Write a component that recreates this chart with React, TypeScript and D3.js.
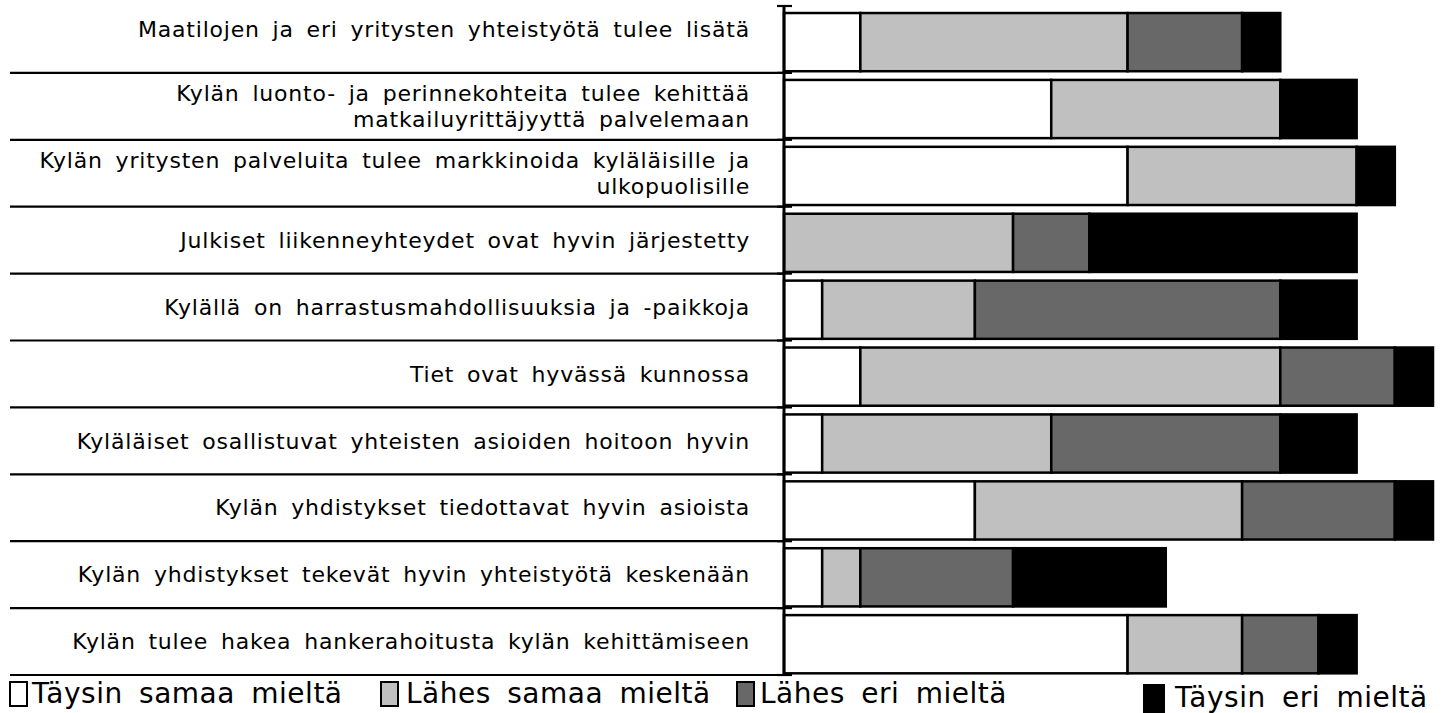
import React from "react";
import * as d3 from "d3";

const categories: string[] = [
  "Maatilojen ja eri yritysten yhteistyötä tulee lisätä",
  "Kylän luonto- ja perinnekohteita tulee kehittää\nmatkailuyrittäjyyttä palvelemaan",
  "Kylän yritysten palveluita tulee markkinoida kyläläisille ja\nulkopuolisille",
  "Julkiset liikenneyhteydet ovat hyvin järjestetty",
  "Kylällä on harrastusmahdollisuuksia ja -paikkoja",
  "Tiet ovat hyvässä kunnossa",
  "Kyläläiset osallistuvat yhteisten asioiden hoitoon hyvin",
  "Kylän yhdistykset tiedottavat hyvin asioista",
  "Kylän yhdistykset tekevät hyvin yhteistyötä keskenään",
  "Kylän tulee hakea hankerahoitusta kylän kehittämiseen",
];

const seriesNames: string[] = [
  "Täysin samaa mieltä",
  "Lähes samaa mieltä",
  "Lähes eri mieltä",
  "Täysin eri mieltä",
];
const seriesColors: string[] = ["#ffffff", "#c0c0c0", "#686868", "#000000"];

const taysinSamaa: number[] = [2, 7, 9, 0, 1, 2, 1, 5, 1, 9];
const lahesSamaa: number[] = [7, 6, 6, 6, 4, 11, 6, 7, 1, 3];
const lahesEri: number[] = [3, 0, 0, 2, 8, 3, 6, 4, 4, 2];
const taysinEri: number[] = [1, 2, 1, 7, 2, 1, 2, 1, 4, 1];

const xMax = 17;

const W = 1445;
const H = 713;
const axisX = 784;
const rightX = 1433;
const topY = 6;
const bottomY = 675;
const FONT = "'DejaVu Sans', sans-serif";

export default function App() {
  const rows = categories.map((c, i) => ({
    cat: c,
    vals: [taysinSamaa[i], lahesSamaa[i], lahesEri[i], taysinEri[i]],
  }));
  const keys = [0, 1, 2, 3];
  const stack = d3
    .stack<{ cat: string; vals: number[] }, number>()
    .keys(keys)
    .value((d, k) => d.vals[k]);
  const stacked = stack(rows);

  const x = d3.scaleLinear().domain([0, xMax]).range([axisX, rightX]);
  const y = d3
    .scaleBand<string>()
    .domain(categories)
    .range([topY, bottomY])
    .paddingInner(0)
    .paddingOuter(0);
  const bw = y.bandwidth();

  const boundaries = d3.range(categories.length + 1).map((i) => topY + i * bw);

  const legendItems = [
    { box: 10, text: 32 },
    { box: 381, text: 406 },
    { box: 737, text: 760 },
    { box: 1144, text: 1175 },
  ];

  return (
    <svg width={W} height={H} style={{ display: "block", position: "absolute", left: 0, top: 0 }}>
      <rect x={0} y={0} width={W} height={H} fill="#ffffff" />
      {/* separators */}
      {boundaries.slice(1).map((b, i) => (
        <line key={"s" + i} x1={10} x2={axisX} y1={b} y2={b} stroke="#000" strokeWidth={2.2} />
      ))}
      {/* ticks */}
      {boundaries.map((b, i) => (
        <line key={"t" + i} x1={777} x2={792} y1={b} y2={b} stroke="#000" strokeWidth={2.2} />
      ))}
      {/* bars */}
      {stacked.map((layer, si) =>
        layer.map((d, ci) => {
          const w = x(d[1]) - x(d[0]);
          if (w <= 0) return null;
          const yy = (y(categories[ci]) as number) + bw * 0.105;
          return (
            <rect
              key={si + "-" + ci}
              x={x(d[0])}
              y={yy}
              width={w}
              height={bw * 0.87}
              fill={seriesColors[si]}
              stroke="#000"
              strokeWidth={2.5}
            />
          );
        })
      )}
      {/* axis */}
      <line x1={axisX} x2={axisX} y1={topY} y2={bottomY} stroke="#000" strokeWidth={3} />
      {/* labels */}
      {categories.map((c, i) => {
        const lines = c.split("\n");
        const cy = (y(c) as number) + bw / 2 + (i === 0 ? -10 : 0);
        const lh = 26;
        return (
          <text
            key={"l" + i}
            x={750}
            textAnchor="end"
            fontFamily={FONT}
            fontSize={22}
            wordSpacing={5}
            letterSpacing={0.8}
            fill="#000"
          >
            {lines.map((ln, j) => (
              <tspan key={j} x={750} y={cy + (j - (lines.length - 1) / 2) * lh} dy="0.35em">
                {ln}
              </tspan>
            ))}
          </text>
        );
      })}
      {/* legend */}
      {legendItems.map((it, i) => (
        <g key={"lg" + i}>
          <rect
            x={it.box}
            y={i === 3 ? 685 : 682}
            width={i === 3 ? 20 : 17}
            height={i === 3 ? 27 : 24}
            fill={seriesColors[i]}
            stroke="#000"
            strokeWidth={2}
          />
          <text
            x={it.text}
            y={i === 3 ? 707 : 703}
            fontFamily={FONT}
            fontSize={28}
            wordSpacing={7}
            letterSpacing={0.5}
            fill="#000"
          >
            {seriesNames[i]}
          </text>
        </g>
      ))}
    </svg>
  );
}
